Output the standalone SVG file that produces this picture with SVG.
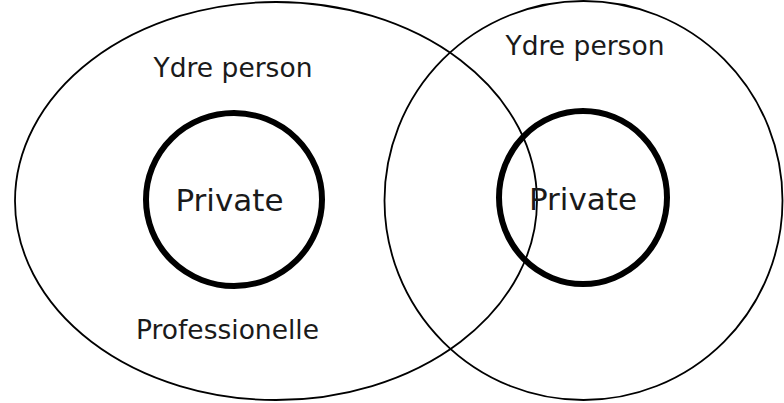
<svg xmlns="http://www.w3.org/2000/svg" width="784" height="403" viewBox="0 0 784 403">
<style>
.outer{fill:none;stroke:#000;stroke-width:1.8}
.inner{fill:none;stroke:#000;stroke-width:6}
.lbl{font-family:"DejaVu Sans",Verdana,sans-serif;fill:#1a1a1a;text-anchor:middle}
.s{font-size:26.5px}
.b{font-size:31px}
</style>
<rect width="784" height="403" fill="#fff"/>
<g id="left-outer">
<ellipse class="outer" cx="276" cy="201" rx="261" ry="199"/>
<text class="lbl s" x="233" y="77">Ydre person</text>
<text class="lbl s" x="227.5" y="339">Professionelle</text>
</g>
<g id="right-outer">
<ellipse class="outer" cx="583.5" cy="200.5" rx="199" ry="199.5"/>
<text class="lbl s" x="585" y="55">Ydre person</text>
</g>
<g id="left-private">
<ellipse class="inner" cx="234" cy="199.5" rx="88" ry="86.5"/>
<text class="lbl b" x="229.5" y="211">Private</text>
</g>
<g id="right-private">
<ellipse class="inner" cx="583" cy="197.5" rx="84" ry="86.5"/>
<text class="lbl b" x="583" y="210">Private</text>
</g>
<g id="connectors"></g>
</svg>
